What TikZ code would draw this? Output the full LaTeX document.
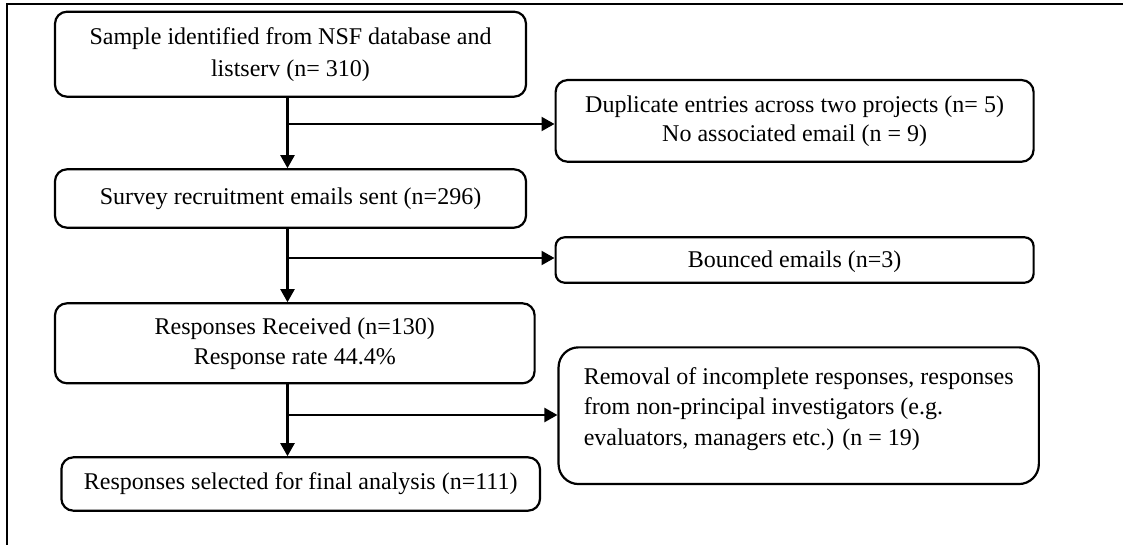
\documentclass[tikz,border=0pt]{standalone}
\usepackage{fontspec}
\setmainfont{Liberation Serif}
\usetikzlibrary{arrows.meta,calc}
\begin{document}
\begin{tikzpicture}[x=1pt,y=-1pt,
  box/.style={draw, line width=2.2pt, rounded corners=12pt, align=center, inner sep=0pt,
    font=\fontsize{24}{30}\selectfont},
  arr/.style={line width=2.2pt, -{Triangle[length=13pt,width=14pt]}},
  ln/.style={line width=2.2pt}]
\useasboundingbox (0,0) rectangle (1123,545);
% frame
\draw[line width=2.2pt] (7,545) -- (7,4) -- (1123,4);
% boxes
\node[box, minimum width=471pt, minimum height=85pt, font=\fontsize{24}{32}\selectfont] (b1) at (290.5,54.2)
  {Sample identified from NSF database and\\listserv (n= 310)};
\node[box, minimum width=478pt, minimum height=81.7pt, font=\fontsize{24}{29}\selectfont] (b2) at (794.6,120.9)
  {Duplicate entries across two projects (n= 5)\\No associated email (n = 9)};
\node[box, minimum width=471pt, minimum height=58.4pt] (b3) at (290.5,198.5)
  {Survey recruitment emails sent (n=296)};
\node[box, minimum width=478pt, minimum height=45.4pt, rounded corners=9pt, text depth=2pt] (b4) at (794.6,260)
  {Bounced emails (n=3)};
\node[box, minimum width=479.6pt, minimum height=80pt, font=\fontsize{24}{30}\selectfont] (b5) at (294.8,343.3)
  {Responses Received (n=130)\\Response rate 44.4\%};
\node[box, minimum width=480.3pt, minimum height=136.7pt, rounded corners=20pt, align=left, text depth=19pt, font=\fontsize{24}{30.5}\selectfont] (b6) at (798.7,415.7)
  {Removal of incomplete responses, responses\\from non-principal investigators (e.g.\\evaluators, managers etc.) (n = 19)};
\node[box, minimum width=478.6pt, minimum height=53.4pt] (b7) at (300.7,484)
  {Responses selected for final analysis (n=111)};
% trunk x
\coordinate (t) at (287.5,0);
\coordinate (j1) at (287.5,124);
\coordinate (j2) at (287.5,258);
\coordinate (j3) at (287.5,415);
% connectors
\draw[arr] (b1.south -| t) -- (b3.north -| t);
\draw[arr] (j1) -- (j1 -| b2.west);
\draw[arr] (b3.south -| t) -- (b5.north -| t);
\draw[arr] (j2) -- (j2 -| b4.west);
\draw[arr] (b5.south -| t) -- (b7.north -| t);
\draw[arr] (j3) -- (j3 -| b6.west);
\end{tikzpicture}
\end{document}
